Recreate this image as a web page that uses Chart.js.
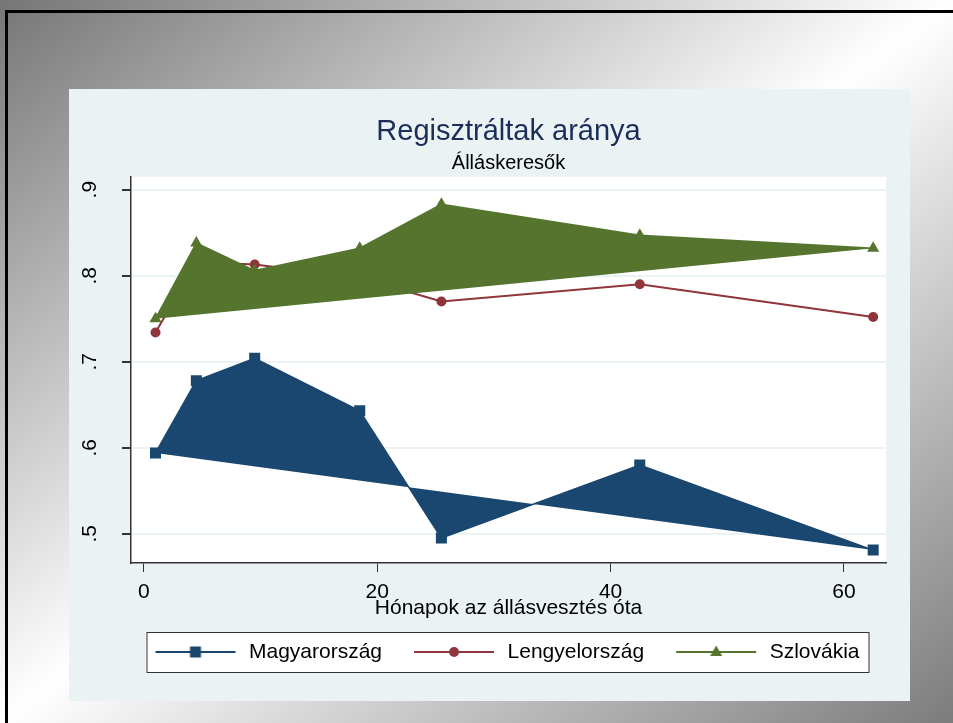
<!DOCTYPE html>
<html>
<head>
<meta charset="utf-8">
<script src="https://cdn.jsdelivr.net/npm/chart.js@4/dist/chart.umd.min.js"></script>
<style>
html, body { margin: 0; padding: 0; width: 953px; height: 723px; overflow: hidden; }
body { position: relative; background: linear-gradient(to bottom right, #767676 0%, #ffffff 50%, #7c7c7c 100%); }
#frame { position: absolute; left: 5px; top: 10px; width: 1000px; height: 800px; border-left: 3px solid #000; border-top: 3px solid #000; }
#graph { position: absolute; left: 69px; top: 89px; width: 841px; height: 612px; background: #eaf2f3; }
</style>
</head>
<body>
<div id="frame"></div>
<div id="graph"><canvas id="chart"></canvas></div>
<script>
// months since job loss, share registered
const months = [1, 4.5, 9.5, 18.5, 25.5, 42.5, 62.5];
const magyarorszag = [0.594, 0.678, 0.704, 0.643, 0.495, 0.580, 0.481];
const lengyelorszag = [0.734, 0.816, 0.813, 0.798, 0.770, 0.790, 0.752];
const szlovakia = [0.750, 0.838, 0.806, 0.832, 0.883, 0.847, 0.832];

const seriesNames = ['Magyarország', 'Lengyelország', 'Szlovákia'];
const seriesColors = ['#1a476f', '#90353b', '#55752f'];
const markers = ['rect', 'circle', 'triangle'];
const xTicks = [0, 20, 40, 60];
const yTicks = [0.5, 0.6, 0.7, 0.8, 0.9];

Chart.defaults.font.family = "'Liberation Sans', Arial, sans-serif";

const pts = vals => vals.map((v, i) => ({x: months[i], y: v}));

// little key: line with marker in the middle
function keyIcon(i) {
  const c = document.createElement('canvas');
  c.width = 105; c.height = 22;
  const g = c.getContext('2d');
  g.strokeStyle = seriesColors[i];
  g.fillStyle = seriesColors[i];
  g.lineWidth = 2;
  g.beginPath(); g.moveTo(22, 11); g.lineTo(102, 11); g.stroke();
  g.beginPath();
  if (markers[i] == 'rect') g.rect(56.5, 5.5, 11, 11);
  else if (markers[i] == 'circle') g.arc(62, 11, 5, 0, Math.PI * 2);
  else { g.moveTo(62, 4.5); g.lineTo(68, 15); g.lineTo(56, 15); g.closePath(); }
  g.fill();
  return c;
}

const backdrop = {
  id: 'backdrop',
  afterLayout(chart) {
    // key sits a little left of centre, as in the original
    chart.legend.left -= 12;
    chart.legend.right -= 12;
  },
  beforeDraw(chart) {
    const {ctx, chartArea: a} = chart;
    ctx.save();
    ctx.fillStyle = '#fff';
    ctx.fillRect(a.left, a.top, a.right - a.left, a.bottom - a.top);
    const hb = chart.legend.legendHitBoxes;
    if (hb && hb.length) {
      const last = hb[hb.length - 1];
      const cy = hb[0].top + hb[0].height / 2;
      const l = hb[0].left + 13, r = last.left + last.width + 9;
      ctx.fillRect(l, cy - 20, r - l, 40);
      ctx.strokeStyle = '#333';
      ctx.lineWidth = 1;
      ctx.strokeRect(l + 0.5, cy - 20 + 0.5, r - l, 40);
    }
    ctx.restore();
  }
};

new Chart('chart', {
  type: 'line',
  data: {
    datasets: [
      {label: seriesNames[0], data: pts(magyarorszag), order: 2},
      {label: seriesNames[1], data: pts(lengyelorszag), order: 1},
      {label: seriesNames[2], data: pts(szlovakia), order: 0}
    ].map((d, i) => Object.assign(d, {
      borderColor: seriesColors[i],
      backgroundColor: seriesColors[i],
      pointBackgroundColor: seriesColors[i],
      pointBorderWidth: 0,
      pointStyle: markers[i],
      pointRadius: [7.8, 5, 7][i],
      borderWidth: i == 1 ? 2 : 1.5,
      tension: 0,
      fill: i == 1 ? false : 'shape'
    }))
  },
  options: {
    responsive: true,
    maintainAspectRatio: false,
    animation: false,
    layout: {padding: {left: 0, right: 24, top: 0, bottom: 28.5}},
    scales: {
      x: {
        type: 'linear', min: -1.1, max: 63.6,
        afterBuildTicks: s => { s.ticks = xTicks.map(v => ({value: v})); },
        afterFit: s => { s.height = 68.5; },
        grid: {drawOnChartArea: false, tickLength: 9, tickColor: '#333'},
        border: {color: '#333', width: 1.5},
        ticks: {color: '#000', font: {size: 21}, padding: 8, maxRotation: 0},
        title: {display: true, text: 'Hónapok az állásvesztés óta', color: '#000', font: {size: 21}, padding: {top: 0, bottom: 11}}
      },
      y: {
        min: 0.466, max: 0.915,
        afterBuildTicks: s => { s.ticks = yTicks.map(v => ({value: v})); },
        afterFit: s => { s.width = 62; },
        grid: {color: '#eaf2f3', lineWidth: 2, tickLength: 9, tickColor: '#333'},
        border: {color: '#333', width: 1.5},
        ticks: {
          color: '#000', font: {size: 21}, padding: 23,
          minRotation: 90, maxRotation: 90, crossAlign: 'center',
          callback: v => v.toFixed(1).replace(/^0/, '')
        }
      }
    },
    plugins: {
      title: {display: true, fullSize: false, text: 'Regisztráltak aránya', color: '#1c2d5a', font: {size: 29, weight: 'normal'}, padding: {top: 26, bottom: 2}},
      subtitle: {display: true, fullSize: false, text: 'Álláskeresők', color: '#000', font: {size: 20, weight: 'normal'}, padding: {top: 0, bottom: 1}},
      tooltip: {enabled: false},
      legend: {
        position: 'bottom',
        fullSize: false,
        labels: {
          usePointStyle: true, pointStyleWidth: 105, padding: 10,
          color: '#000', font: {size: 21},
          generateLabels: () => seriesNames.map((n, i) => ({
            text: n, pointStyle: keyIcon(i), fontColor: '#000',
            hidden: false, datasetIndex: i, lineWidth: 0
          }))
        }
      }
    }
  },
  plugins: [backdrop]
});
</script>
</body>
</html>
